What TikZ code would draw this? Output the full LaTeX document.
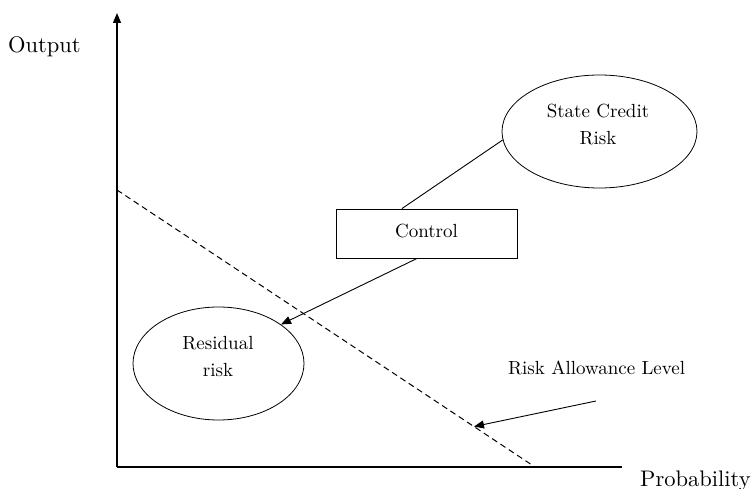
\documentclass[tikz,border=0pt]{standalone}
\usepackage{fontspec}
\setmainfont{lmroman10-regular.otf}
\usetikzlibrary{shapes.geometric,arrows.meta,calc}
\tikzset{
  axis/.style={line width=1.2pt},
  conn/.style={line width=0.9pt},
  tip/.style={-{Triangle[length=10pt,width=8pt]}},
  oval/.style={ellipse,draw,line width=0.8pt,inner sep=0pt},
  ctrlbox/.style={rectangle,draw,line width=0.9pt,minimum width=181pt,minimum height=49pt,inner sep=0pt},
  inlabel/.style={font=\fontsize{19}{27}\selectfont,align=center,inner sep=0pt},
  axlabel/.style={font=\fontsize{22.5}{27}\selectfont,inner sep=0pt},
  dashline/.style={line width=1pt,dash pattern=on 6pt off 4pt}
}
\begin{document}
\begin{tikzpicture}[x=1pt,y=-1pt]
\useasboundingbox (0,0) rectangle (756,489);
% axes
\coordinate (o) at (117,467);
\coordinate (ytop) at (117,13);
\coordinate (xend) at (622,467);
\draw[axis,tip] (o) -- (ytop);
\draw[axis] (o) -- (xend);
\node[axlabel,anchor=base west] (outl) at (8,53) {Output};
\node[axlabel,anchor=base west] (probl) at (640,486) {Probability};
% dashed risk allowance line
\coordinate (d1) at (117,190);
\coordinate (d2) at (535,467);
\draw[dashline] (d1) -- (d2);
\path (d1) -- (d2) coordinate[pos=0.854] (dtip);
% nodes
\node[oval,minimum width=195pt,minimum height=113pt] (sc) at (599.5,131.5) {};
\node[inlabel] (sct) at (598,125) {State Credit\\Risk};
\node[ctrlbox] (ctrl) at (426.5,233.5) {};
\node[inlabel] (ctrlt) at (426.5,231.5) {Control};
\node[oval,minimum width=171pt,minimum height=113pt] (res) at (218.5,363.5) {};
\node[inlabel] (rest) at (218,357) {Residual\\risk};
\node[inlabel,anchor=base west] (ral) at (508,374) {Risk Allowance Level};
% connectors
\draw[conn] (sc.185) -- ($(ctrl.north)+(-24.5,0)$);
\draw[conn,tip] ($(ctrl.south)+(-9.5,0)$) -- (res.32);
\coordinate (ralstart) at (596,401);
\draw[conn,tip] (ralstart) -- (dtip);
\end{tikzpicture}
\end{document}
